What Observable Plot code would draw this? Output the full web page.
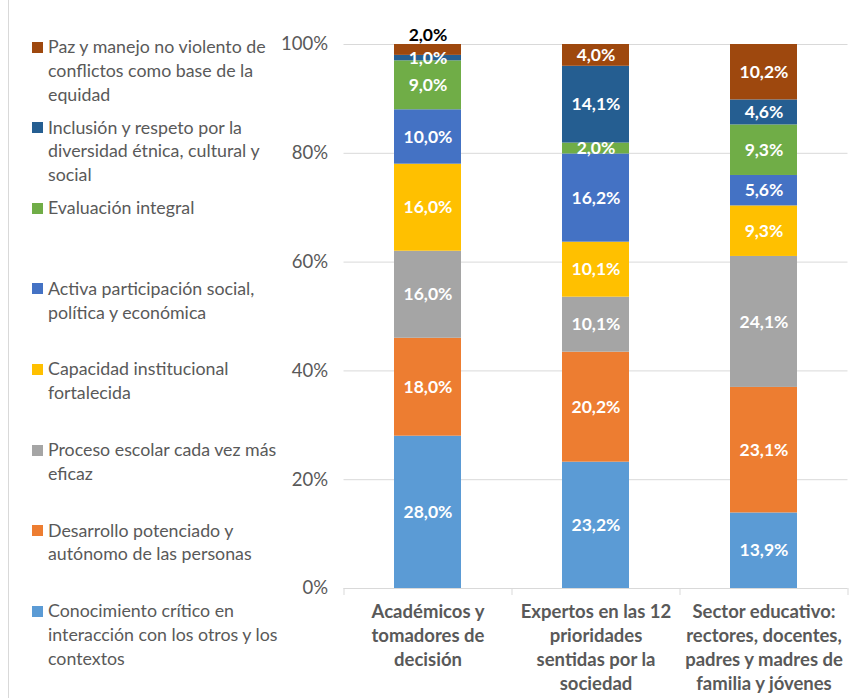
<!DOCTYPE html>
<html>
<head>
<meta charset="utf-8">
<script src="https://cdn.jsdelivr.net/npm/d3@7"></script>
<script src="https://cdn.jsdelivr.net/npm/@observablehq/plot@0.6"></script>
<style>
  body { margin: 0; background: #fff; }
  #wrap { position: relative; width: 852px; height: 698px; overflow: hidden; font-family: Lato, "Open Sans", sans-serif; }
  #frame { position: absolute; left: 8px; top: 0; width: 0; height: 698px; border-left: 1.5px solid #d9d9d9; }
  #chart { position: absolute; left: 0; top: 0; }
  .item { position: absolute; left: 48px; font-size: 17.8px; line-height: 23.8px; color: #595959; white-space: nowrap; }
  .sw { position: absolute; left: -16px; top: 6.5px; width: 11px; height: 11px; }
</style>
</head>
<body>
<div id="wrap">
  <div id="frame"></div>
  <div id="chart"></div>
  <div id="legend"></div>
</div>
<script>
const categories = [
  "Académicos y tomadores de decisión",
  "Expertos en las 12 prioridades sentidas por la sociedad",
  "Sector educativo: rectores, docentes, padres y madres de familia y jóvenes"
];
const tickLabels = [
  "Académicos y\ntomadores de\ndecisión",
  "Expertos en las 12\nprioridades\nsentidas por la\nsociedad",
  "Sector educativo:\nrectores, docentes,\npadres y madres de\nfamilia y jóvenes"
];
// bottom to top
const series = [
  "Conocimiento crítico en interacción con los otros y los contextos",
  "Desarrollo potenciado y autónomo de las personas",
  "Proceso escolar cada vez más eficaz",
  "Capacidad institucional fortalecida",
  "Activa participación social, política y económica",
  "Evaluación integral",
  "Inclusión y respeto por la diversidad étnica, cultural y social",
  "Paz y manejo no violento de conflictos como base de la equidad"
];
const legendLines = [
  ["Conocimiento crítico en", "interacción con los otros y los", "contextos"],
  ["Desarrollo potenciado y", "autónomo de las personas"],
  ["Proceso escolar cada vez más", "eficaz"],
  ["Capacidad institucional", "fortalecida"],
  ["Activa participación social,", "política y económica"],
  ["Evaluación integral"],
  ["Inclusión y respeto por la", "diversidad étnica, cultural y", "social"],
  ["Paz y manejo no violento de", "conflictos como base de la", "equidad"]
];
const colors = ["#5B9BD5", "#ED7D31", "#A5A5A5", "#FFC000", "#4472C4", "#70AD47", "#255E91", "#9E480E"];
const academicos = [28.0, 18.0, 16.0, 16.0, 10.0, 9.0, 1.0, 2.0];
const expertos   = [23.2, 20.2, 10.1, 10.1, 16.2, 2.0, 14.1, 4.0];
const sector     = [13.9, 23.1, 24.1, 9.3, 5.6, 9.3, 4.6, 10.2];
const yTicks = [0, 0.2, 0.4, 0.6, 0.8, 1.0];

const valuesByCat = [academicos, expertos, sector];
const data = [];
categories.forEach((c, ci) => series.forEach((s, si) => data.push({cat: c, series: s, v: valuesByCat[ci][si]})));

const fmt = v => v.toFixed(1).replace(".", ",") + "%";
const isOutside = d => d.cat === categories[0] && d.series === series[7];

const W = 852, H = 698, ML = 343.5, MR = 4.5;
const step = (W - ML - MR) / categories.length;

const stackOpts = {x: "cat", y: "v", z: "series", order: series, offset: "normalize"};

const plot = Plot.plot({
  width: W,
  height: H,
  marginLeft: ML,
  marginRight: MR,
  marginTop: 44,
  marginBottom: 110,
  style: {fontFamily: "Lato, 'Open Sans', sans-serif", fontSize: "18.5px", color: "#595959", background: "transparent", overflow: "visible"},
  x: {domain: categories, paddingInner: 0.6, paddingOuter: 0.3, label: null},
  y: {domain: [0, 1], label: null},
  color: {domain: series, range: colors},
  marks: [
    Plot.ruleY(yTicks, {stroke: "#d9d9d9", strokeWidth: 1}),
    Plot.ruleX(categories, {x: d => d, dx: -step / 2, y1: 0, y2: 0, insetBottom: -7, stroke: "#d9d9d9"}),
    Plot.ruleX([categories[categories.length - 1]], {x: d => d, dx: step / 2, y1: 0, y2: 0, insetBottom: -7, stroke: "#d9d9d9"}),
    Plot.barY(data, Plot.stackY({...stackOpts, fill: "series"})),
    Plot.text(data, Plot.stackY({...stackOpts, text: d => isOutside(d) ? null : fmt(d.v), fill: "white", fontWeight: "bold", fontSize: 17.5})),
    Plot.text(data, Plot.stackY2({...stackOpts, text: d => isOutside(d) ? fmt(d.v) : null, fill: "black", fontWeight: "bold", fontSize: 17.5, dy: -9})),
    Plot.axisY({ticks: yTicks, tickFormat: d3.format(".0%"), tickSize: 0, tickPadding: 16, fontSize: 18.5}),
    Plot.axisX({tickSize: 0, tickPadding: 12, tickFormat: d => tickLabels[categories.indexOf(d)], fontWeight: "bold", fontSize: 18.5, lineHeight: 1.3, lineAnchor: "top"})
  ]
});
document.getElementById("chart").appendChild(plot);

const legend = document.getElementById("legend");
// legend order top to bottom: reverse of stack
const legendOrder = series.map((s, i) => i).reverse();
legendOrder.forEach((si, k) => {
  const div = document.createElement("div");
  div.className = "item";
  div.style.top = (47 + 80.6 * k - 12) + "px";
  const sw = document.createElement("div");
  sw.className = "sw";
  sw.style.background = colors[si];
  div.appendChild(sw);
  div.innerHTML += legendLines[si].join("<br>");
  legend.appendChild(div);
});
</script>
</body>
</html>
